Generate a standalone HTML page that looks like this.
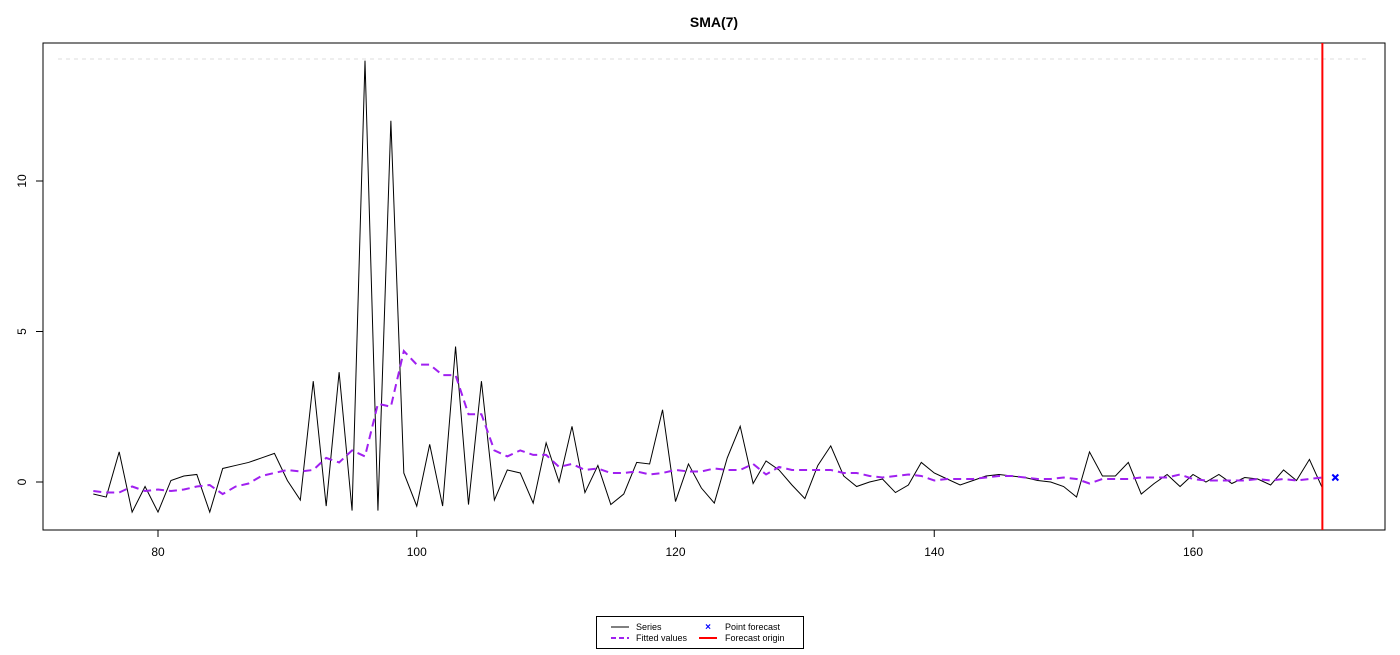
<!DOCTYPE html>
<html><head><meta charset="utf-8"><style>
body{margin:0;background:#fff;font-family:"Liberation Sans",sans-serif}
svg text{font-family:"Liberation Sans",sans-serif}
</style></head><body>
<svg id="chart" width="1400" height="650">
<text x="714" y="27" text-anchor="middle" font-weight="bold" font-size="14">SMA(7)</text>
<rect x="43" y="43" width="1342" height="487" fill="none" stroke="#000"/>
<line x1="58" x2="1370" y1="59" y2="59" stroke="#ddd" stroke-dasharray="4,4"/>
<g id="xaxis"></g>
<g id="yaxis"></g>
<g id="marks"></g>
<g>
<rect x="596.5" y="616.5" width="207" height="32" fill="#fff" stroke="#000"/>
<line x1="611" x2="629" y1="627" y2="627" stroke="#000"/>
<text x="636" y="630" font-size="9">Series</text>
<line x1="611" x2="629" y1="638" y2="638" stroke="#a020f0" stroke-width="2" stroke-dasharray="5,3"/>
<text x="636" y="641" font-size="9">Fitted values</text>
<text x="708" y="630" font-size="10" fill="#0000ff" text-anchor="middle" font-weight="bold">×</text>
<text x="725" y="630" font-size="9">Point forecast</text>
<line x1="699" x2="717" y1="638" y2="638" stroke="#ff0000" stroke-width="2"/>
<text x="725" y="641" font-size="9">Forecast origin</text>
</g>
</svg>
<script>
const xStart = 75;
const seriesVals = [-0.4,-0.5,1.0,-1.0,-0.15,-1.0,0.05,0.2,0.25,-1.0,0.45,0.55,0.65,0.8,0.95,0.05,-0.6,3.35,-0.8,3.65,-0.95,14.0,-0.95,12.0,0.3,-0.8,1.25,-0.8,4.5,-0.75,3.35,-0.6,0.4,0.3,-0.7,1.3,0.0,1.85,-0.35,0.55,-0.75,-0.4,0.65,0.6,2.4,-0.65,0.6,-0.2,-0.7,0.8,1.85,-0.05,0.7,0.4,-0.1,-0.55,0.55,1.2,0.2,-0.15,0.0,0.1,-0.35,-0.1,0.65,0.3,0.1,-0.1,0.05,0.2,0.25,0.2,0.15,0.05,0.0,-0.15,-0.5,1.0,0.2,0.2,0.65,-0.4,-0.05,0.25,-0.15,0.25,0.0,0.25,-0.05,0.15,0.1,-0.1,0.4,0.05,0.75,-0.2];
const fittedVals = [-0.3,-0.35,-0.35,-0.15,-0.3,-0.25,-0.3,-0.25,-0.15,-0.1,-0.4,-0.15,-0.05,0.2,0.3,0.4,0.35,0.4,0.8,0.65,1.05,0.85,2.6,2.5,4.35,3.9,3.9,3.55,3.55,2.25,2.25,1.05,0.85,1.05,0.9,0.9,0.5,0.6,0.4,0.45,0.3,0.3,0.35,0.25,0.3,0.4,0.35,0.35,0.45,0.4,0.4,0.6,0.25,0.5,0.4,0.4,0.4,0.4,0.3,0.3,0.2,0.15,0.2,0.25,0.2,0.05,0.1,0.1,0.1,0.15,0.2,0.2,0.15,0.1,0.1,0.15,0.1,-0.05,0.1,0.1,0.1,0.15,0.15,0.15,0.25,0.1,0.05,0.05,0.05,0.05,0.1,0.05,0.1,0.05,0.1,0.15];
const forecastX = [171];
const forecastVals = [0.15];
const originX = 170;
const xTicks = [80,100,120,140,160];
const yTicks = [0,5,10];

const NS="http://www.w3.org/2000/svg";
function sx(v){return 158+(v-80)*12.9375;}
function sy(v){return 482-v*30.1;}
function mk(tag,attrs,parent){const e=document.createElementNS(NS,tag);for(const k in attrs)e.setAttribute(k,attrs[k]);parent.appendChild(e);return e;}
const xa=document.getElementById('xaxis'),ya=document.getElementById('yaxis'),mg=document.getElementById('marks');
const xl=mk('line',{x1:sx(xTicks[0]),x2:sx(xTicks[xTicks.length-1]),y1:530,y2:530,stroke:'#000'},xa);


xTicks.forEach(t=>{
  const l=mk('line',{x1:sx(t),x2:sx(t),y1:530,y2:537,stroke:'#000'},xa);
  
  
  const tx=mk('text',{x:sx(t),y:556,'text-anchor':'middle','font-size':12},xa);tx.textContent=t;
  
  
});
const yl=mk('line',{x1:43,x2:43,y1:sy(yTicks[0]),y2:sy(yTicks[yTicks.length-1]),stroke:'#000'},ya);


yTicks.forEach(t=>{
  const l=mk('line',{x1:36,x2:43,y1:sy(t),y2:sy(t),stroke:'#000'},ya);
  
  
  const tx=mk('text',{x:0,y:0,'text-anchor':'middle','font-size':12,transform:`translate(26,${sy(t)}) rotate(-90)`},ya);tx.textContent=t;
  
  
});
const sp=mk('polyline',{points:seriesVals.map((v,i)=>sx(xStart+i)+','+sy(v)).join(' '),fill:'none',stroke:'#000','stroke-width':1},mg);


const fp=mk('polyline',{points:fittedVals.map((v,i)=>sx(xStart+i)+','+sy(v)).join(' '),fill:'none',stroke:'#a020f0','stroke-width':2,'stroke-dasharray':'8,5'},mg);


const ol=mk('line',{x1:sx(originX),x2:sx(originX),y1:43,y2:530,stroke:'#ff0000','stroke-width':2},mg);


forecastVals.forEach((v,i)=>{
  const cx=sx(forecastX[i]),cy=sy(v);
  const p=mk('path',{d:`M${cx-3},${cy-3}L${cx+3},${cy+3}M${cx-3},${cy+3}L${cx+3},${cy-3}`,stroke:'#0000ff','stroke-width':2},mg);
  
  
});
</script>
</body></html>
